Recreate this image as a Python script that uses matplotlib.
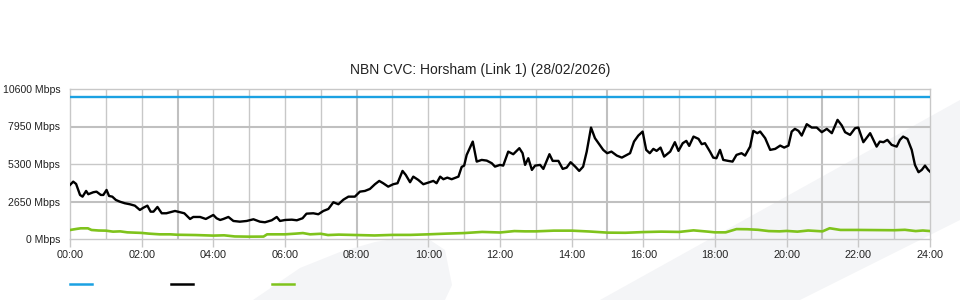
import matplotlib
matplotlib.use("Agg")
import matplotlib.pyplot as plt
from matplotlib.patches import Polygon
from matplotlib.lines import Line2D

plt.rcParams["font.family"] = ["Liberation Sans", "DejaVu Sans"]

# --- data (hours since midnight, Mbps)
capacity_t = [0, 24]
capacity_v = [10000, 10000]

black_t = [0.00, 0.09, 0.17, 0.28, 0.35, 0.45, 0.51, 0.65, 0.74, 0.86, 0.93, 1.02, 1.09, 1.18,
           1.28, 1.39, 1.53, 1.67, 1.81, 1.95, 2.05, 2.16, 2.25, 2.33, 2.44, 2.56, 2.69, 2.79,
           2.93, 3.07, 3.19, 3.35, 3.44, 3.63, 3.79, 3.91, 4.00, 4.09, 4.19, 4.28, 4.42, 4.56,
           4.74, 4.93, 5.12, 5.30, 5.44, 5.63, 5.77, 5.86, 6.00, 6.19, 6.33, 6.49, 6.60, 6.79,
           6.93, 7.07, 7.21, 7.35, 7.49, 7.63, 7.77, 7.95, 8.09, 8.23, 8.37, 8.51, 8.63, 8.74,
           8.88, 9.02, 9.14, 9.28, 9.37, 9.49, 9.58, 9.72, 9.86, 10.00, 10.14, 10.23, 10.33,
           10.42, 10.53, 10.65, 10.84, 10.93, 11.00, 11.07, 11.24, 11.35, 11.49, 11.63, 11.77,
           11.86, 12.00, 12.09, 12.23, 12.37, 12.54, 12.63, 12.70, 12.79, 12.89, 12.98, 13.12,
           13.21, 13.38, 13.47, 13.63, 13.75, 13.86, 13.97, 14.10, 14.21, 14.32, 14.42, 14.54,
           14.65, 14.77, 14.88, 14.99, 15.11, 15.26, 15.40, 15.54, 15.63, 15.74, 15.86, 15.98,
           16.08, 16.18, 16.28, 16.37, 16.48, 16.58, 16.75, 16.88, 16.98, 17.10, 17.20, 17.28,
           17.40, 17.54, 17.63, 17.72, 17.86, 17.95, 18.04, 18.14, 18.23, 18.37, 18.49, 18.60,
           18.74, 18.84, 18.98, 19.07, 19.18, 19.26, 19.40, 19.54, 19.68, 19.82, 19.93, 20.05,
           20.14, 20.23, 20.33, 20.42, 20.56, 20.70, 20.84, 20.98, 21.12, 21.26, 21.42, 21.54,
           21.63, 21.77, 21.91, 22.00, 22.14, 22.33, 22.51, 22.60, 22.70, 22.81, 22.93, 23.07,
           23.16, 23.25, 23.37, 23.49, 23.58, 23.68, 23.77, 23.86, 23.95, 24.00]
black_v = [3820, 4054, 3891, 3113, 2993, 3396, 3163, 3304, 3346, 3113, 3113, 3467, 3042, 2993,
           2759, 2639, 2526, 2455, 2356, 2052, 2214, 2356, 1931, 1931, 2264, 1818, 1818, 1889,
           1981, 1889, 1818, 1415, 1557, 1557, 1415, 1578, 1698, 1465, 1344, 1415, 1557, 1274,
           1224, 1274, 1394, 1224, 1182, 1323, 1557, 1274, 1344, 1366, 1323, 1465, 1790, 1818,
           1748, 1981, 2123, 2597, 2455, 2780, 2993, 2993, 3346, 3396, 3538, 3870, 4104, 3941,
           3700, 3870, 3941, 4811, 4528, 4012, 4408, 4174, 3870, 3983, 4104, 3941, 4408,
           4224, 4337, 4224, 4408, 5094, 5186, 5943, 6884, 5469, 5589, 5540, 5356,
           5115, 5236, 5186, 6176, 5990, 6417, 6063, 5236, 5709, 4882, 5186, 5236,
           4953, 5993, 5519, 5519, 4953, 5044, 5427, 5115, 4811, 5115, 6176, 7875,
           7125, 6700, 6297, 6063, 6176, 5894, 5752, 5943, 6063, 6884, 7309, 7592,
           6297, 6063, 6368, 6226, 6460, 5823, 6176, 6841, 6226, 6771, 6934, 6580,
           7238, 7075, 6700, 6771, 6176, 5752, 5709, 6297, 5589, 5519, 5469, 5943,
           6063, 5894, 6530, 7641, 7478, 7592, 7125, 6297, 6368, 6601, 6460, 6601,
           7592, 7783, 7641, 7309, 8115, 7875, 7875, 7549, 7783, 7478, 8419, 8016,
           7549, 7358, 7832, 7875, 6841, 7478, 6530, 6884, 6841, 7004, 6651, 6530,
           7004, 7238, 7075, 6297, 5236, 4719, 4882, 5186, 4882, 4762]

green_t = [0.0, 0.2, 0.3, 0.5, 0.6, 0.8, 1.0, 1.2, 1.4, 1.6, 1.8, 2.0, 2.2, 2.5, 2.8, 3.0, 3.5,
           4.0, 4.3, 4.6, 5.0, 5.4, 5.5, 6.0, 6.3, 6.5, 6.7, 7.0, 7.2, 7.5, 8.0, 8.5, 9.0, 9.5,
           10.0, 10.5, 11.0, 11.5, 12.0, 12.4, 12.7, 13.0, 13.5, 14.0, 14.5, 15.0, 15.5, 16.0,
           16.5, 17.0, 17.4, 17.8, 18.0, 18.3, 18.6, 18.9, 19.2, 19.5, 19.8, 20.0, 20.3, 20.6,
           21.0, 21.2, 21.5, 22.0, 22.5, 23.0, 23.3, 23.6, 23.8, 24.0]
green_v = [637, 720, 755, 755, 637, 600, 590, 520, 540, 470, 450, 430, 380, 330, 330, 300, 280,
           240, 260, 180, 165, 170, 330, 330, 380, 420, 330, 370, 280, 310, 280, 250, 290, 290,
           330, 380, 420, 500, 460, 560, 540, 540, 590, 590, 530, 450, 440, 490,
           520, 500, 610, 520, 470, 470, 700, 690, 650, 560, 540, 570, 520, 600,
           540, 760, 640, 640, 630, 620, 650, 560, 600, 560]

y_ticks = [0, 2650, 5300, 7950, 10600]
y_labels = [f"{v} Mbps" for v in y_ticks]
x_ticks = list(range(0, 25, 2))
x_labels = [f"{h:02d}:00" for h in x_ticks]

BLUE = "#1ba1e2"
GREEN = "#7fc31c"
GRID = "#c8c8c8"
BG = "#f4f5f7"

fig = plt.figure(figsize=(9.6, 3.0), dpi=100, facecolor="white")

# faint background shapes (pixel coords from top-left)
def px(pts):
    return [(x / 960, 1 - y / 300) for x, y in pts]

fig.add_artist(Polygon(px([(600, 300), (960, 100), (960, 220), (800, 300)]),
                       closed=True, facecolor=BG, edgecolor="none", zorder=0))
fig.add_artist(Polygon(px([(253, 300), (300, 268), (340, 252), (375, 242), (400, 238),
                           (430, 240), (445, 250), (452, 285), (445, 300)]),
                       closed=True, facecolor=BG, edgecolor="none", zorder=0))

ax = fig.add_axes([70 / 960, 61 / 300, 860 / 960, 150 / 300])
ax.set_facecolor("none")

# grid
for h in range(1, 24):
    thick = h in (3, 8, 15, 21)
    ax.axvline(h, color="#c0c0c0" if thick else GRID, lw=1.5 if thick else 1.0, zorder=1)
for v in y_ticks[1:-1]:
    thick = v in (2650, 7950)
    ax.axhline(v, color="#c0c0c0" if thick else GRID, lw=1.5 if thick else 1.0, zorder=1)

ax.plot(capacity_t, capacity_v, color=BLUE, lw=1.7, zorder=3)
ax.plot(green_t, green_v, color=GREEN, lw=1.9, zorder=3)
ax.plot(black_t, black_v, color="black", lw=1.7, zorder=4)

ax.set_xlim(0, 24)
ax.set_ylim(0, 10600)
ax.set_xticks(x_ticks)
ax.set_xticklabels(x_labels)
ax.set_yticks(y_ticks)
ax.set_yticklabels(y_labels)
ax.tick_params(axis="x", length=6, width=1, color=GRID, pad=2, labelsize=7.8, labelcolor="#222222")
ax.tick_params(axis="y", length=0, pad=7, labelsize=7.6, labelcolor="#222222")
for s in ax.spines.values():
    s.set_color(GRID)
    s.set_linewidth(1.0)

fig.text(0.5, 1 - 70 / 300, "NBN CVC: Horsham (Link 1) (28/02/2026)",
         ha="center", va="center", fontsize=10, color="#222222")

handles = [Line2D([], [], color=BLUE, lw=1.8),
           Line2D([], [], color="black", lw=1.8),
           Line2D([], [], color=GREEN, lw=1.8)]
fig.legend(handles, ["", "", ""], ncol=3, frameon=False, loc="center left",
           bbox_to_anchor=(70 / 960, 1 - 285 / 300), borderpad=0, borderaxespad=0,
           handlelength=2.0, handletextpad=0.0, columnspacing=7.1, fontsize=8)

fig.savefig("out.png", dpi=100, facecolor="white")
